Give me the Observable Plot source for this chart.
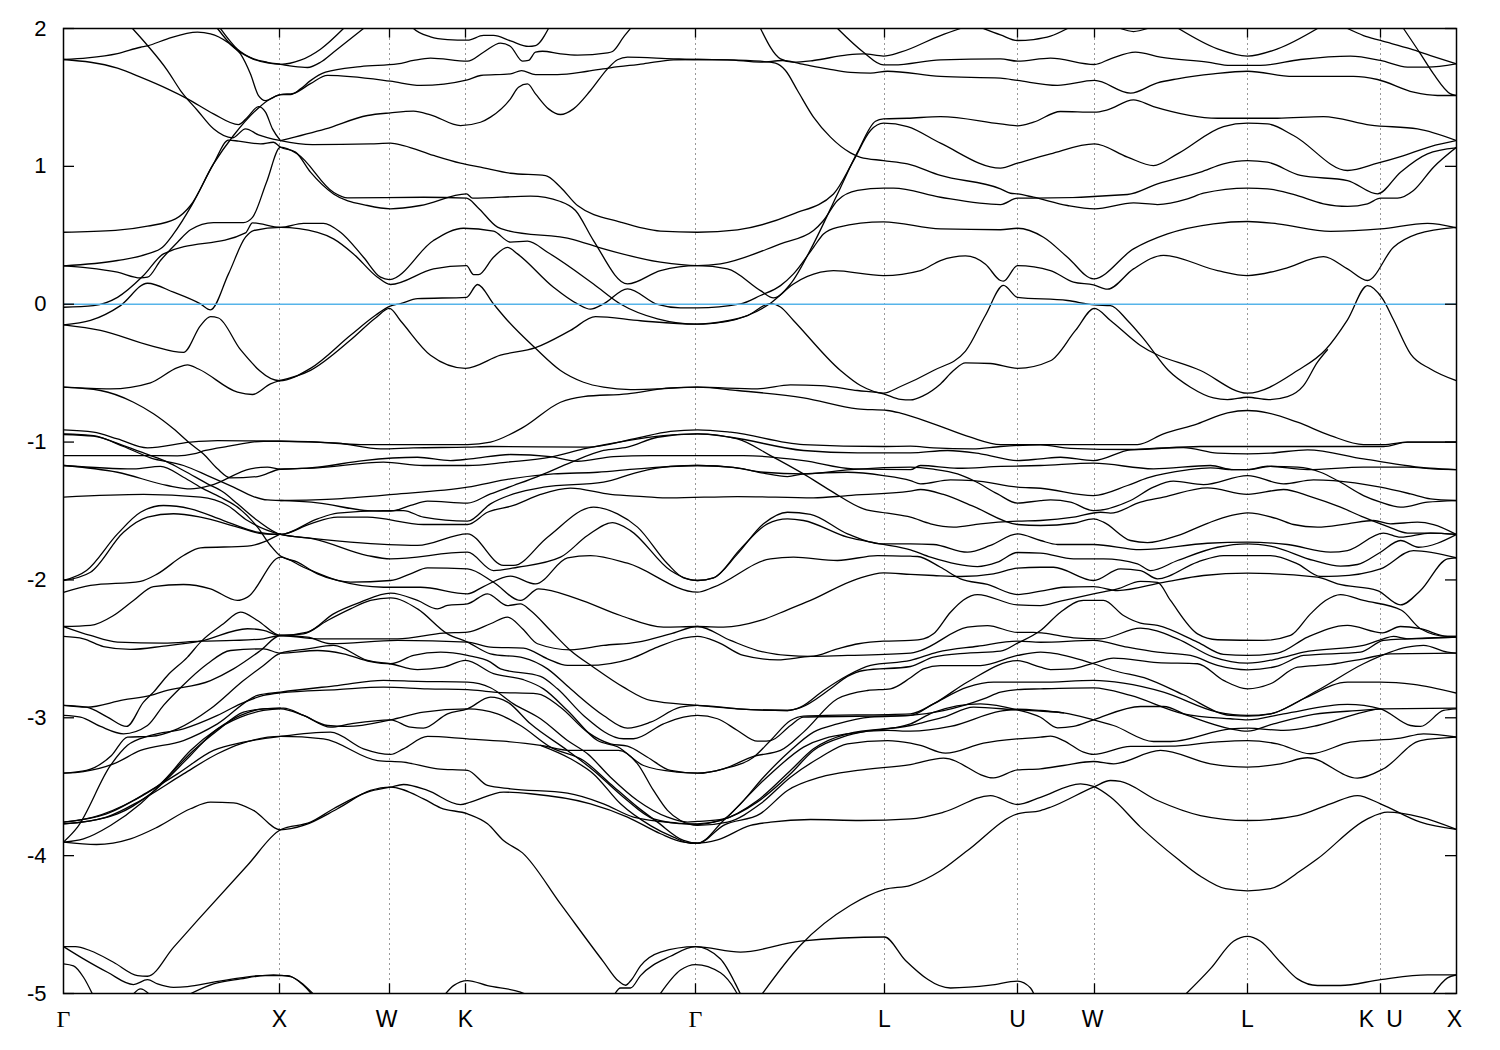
<!DOCTYPE html>
<html>
<head>
<meta charset="utf-8">
<script src="https://cdn.jsdelivr.net/npm/d3@7"></script>
<script src="https://cdn.jsdelivr.net/npm/@observablehq/plot@0.6"></script>
<style>html,body{margin:0;padding:0;background:#fff}svg{display:block}</style>
</head>
<body>
<div id="chart"></div>
<script>
// k-path position of each high-symmetry point
const nodes = [0,216,326,402,632,821,954,1031,1184,1317,1393];
const xLabels = ["Γ","X","W","K","Γ","L","U","W","L","K","U","X"];
const xLabelK = [0,216,323,402,632,821,954,1029,1184,1303,1331,1391];
const energyTicks = [2,1,0,-1,-2,-3,-4,-5];

// bands: k, energy (eV) pairs
const topA = [345,2.05,350,2,367,1.94,384,1.92,404,1.915,420,1.95,430,1.95,447,1.91,465,1.87,472,1.876,485,2];
const topB = [154,2,170,1.864,187,1.787,204,1.75,217,1.74,237,1.77,257,1.85,280,2];
const topC = [157,2,174,1.85,190,1.78,204,1.755,217,1.74,230,1.725,244,1.717,257,1.755,270,1.828,300,2];
const topD = [0,1.775,24,1.787,54,1.818,77,1.864,84,1.874,104,1.925,134,1.973,147,1.961,164,1.9,177,1.816,187,1.67,195,1.513,202,1.477,217,1.52,227,1.52,237,1.562,247,1.622,262,1.683,297,1.724,334,1.743,350,1.768,367,1.785,404,1.763,420,1.828,437,1.894,447,1.87,459,1.763,465,1.768,472,1.828,479,1.835,497,1.816,514,1.807,544,1.823,549,1.833,560,1.937,567,2];
const bandF = [0,.522,52,.535,84,.566,112,.619,127,.716,150,1.018,170,1.224,195,1.424,207,1.49,217,1.52,230,1.53,247,1.6,264,1.66,327,1.618,357,1.587,404,1.628,417,1.659,447,1.671,458,1.695,472,1.666,494,1.666,524,1.69,547,1.715,580,1.744,610,1.773,634,1.775,664,1.773,697,1.763,712,1.748,722,1.695,734,1.55,750,1.357,767,1.212,787,1.098,797,1.066,820,1.042,844,1.018,877,.934,937,.837,947,.805,954,.8,970,.776,1004,.716,1031,.692,1070,.735,1094,.723,1124,.764,1140,.805,1184,.842,1204,.837,1230,.796,1260,.728,1284,.709,1304,.728,1317,.769,1334,.769,1350,.825,1370,.994,1393,1.139];
const bandK = [217,1.187,262,1.272,304,1.369,327,1.388,350,1.4,367,1.374,397,1.296,417,1.32,427,1.357,447,1.49,455,1.574,464,1.598,472,1.526,485,1.417,497,1.376,510,1.417,527,1.55,544,1.707,554,1.773,564,1.792,610,1.78,634,1.775,664,1.773,697,1.756,719,1.768,737,1.744,764,1.707,787,1.681,807,1.676,824,1.69,877,1.652,937,1.64,954,1.623,994,1.587,1031,1.623,1067,1.531,1094,1.606,1114,1.635,1150,1.671,1184,1.69,1230,1.652,1290,1.652,1314,1.63,1350,1.538,1374,1.514,1393,1.514];
const topE = [697,2,717,1.78,730,1.756,750,1.768,784,1.809,800,1.816,820,1.8,837,1.828,877,1.949,897,2];
const topF = [774,2,800,1.828,820,1.736,830,1.736,877,1.773,937,1.78,954,1.763,987,1.785,1031,1.739,1047,1.78,1072,1.828,1097,1.792,1144,1.756,1167,1.732,1197,1.732,1237,1.775,1287,1.8,1317,1.768,1344,1.72,1364,1.72,1393,1.744];
const topG = [920,2,937,1.954,954,1.913,970,1.92,987,1.944,1004,2];
const topH = [1057,2,1070,1.978,1084,2];
const topI = [1115,2,1154,1.852,1184,1.8,1214,1.852,1254,2];
const topJ = [1284,2,1300,1.949,1317,1.913,1347,1.852,1367,1.804,1393,1.744];
const topL = [1340,2,1357,1.816,1370,1.671,1387,1.526,1393,1.514];
const bandB = [69,2,84,1.877,104,1.695,117,1.55,134,1.405,150,1.272,169,1.207,182,1.272,195,1.229,217,1.187,249,1.158,307,1.163,327,1.168,340,1.151,370,1.079,397,1.023,417,.994,447,.95,482,.933,497,.849,514,.716,557,.595,597,.53,634,.522,674,.54,730,.655,770,.8,790,1.042,807,1.26,820,1.313,844,1.289,877,1.168,937,.987,954,1.023,987,1.091,1031,1.163,1064,1.067,1090,1.006,1114,1.091,1160,1.289,1184,1.313,1204,1.308,1230,1.224,1284,.97,1314,1.023,1337,1.071,1367,1.144,1393,1.187];
const bandC = [0,1.775,54,1.712,77,1.647,104,1.562,124,1.49,150,1.381,175,1.303,184,1.357,195,1.434,202,1.393,209,1.272,217,1.187];
const bandG = [0,.278,54,.317,84,.365,99,.413,110,.51,129,.728,150,1.018,165,1.19,175,1.183,197,1.163,210,1.175,217,1.139,232,1.103,247,.958,270,.8,304,.716,327,.692,357,.716,403,.8,409,.769,467,.784,497,.745,512,.68,530,.462,564,.147,597,.244,634,.28,664,.256,697,.099,710,.046,727,.147,750,.438,774,.8,794,1.103,812,1.327,820,1.344,844,1.349,877,1.361,937,1.308,954,1.294,970,1.32,997,1.398,1031,1.393,1044,1.41,1070,1.482,1090,1.434,1154,1.349,1214,1.349,1260,1.361,1307,1.299,1354,1.272,1393,1.187];
const bandH = [0,.278,24,.263,54,.232,77,.191,84,.196,97,.317,114,.45,127,.54,150,.592,180,.592,189,.63,203,.885,217,1.139,234,1.09,270,.812,284,.771,360,.776,403,.769,414,.704,434,.559,444,.534,510,.469,535,.413,597,.305,634,.28,657,.293,717,.438,750,.534,760,.607,774,.752,794,.825,820,.842,830,.842,877,.776,937,.723,954,.769,970,.769,1064,.796,1094,.873,1137,.958,1160,1.018,1184,1.042,1204,1.03,1237,.934,1284,.897,1314,.8,1337,.958,1364,1.091,1393,1.134];
const bandJ = [0,-.15,27,-.118,57,-.01,84,.152,110,.087,137,.002,147,-.041,165,.22,182,.486,190,.534,217,.558,254,.522,270,.474,290,.365,314,.196,327,.143,370,.256,403,.28,410,.215,415,.215,430,.341,444,.413,454,.365,490,.123,514,.002,527,-.036,540,.002,564,.111,594,-.002,617,-.027,634,-.027,677,.002,697,.063,717,.135,730,.22,750,.413,760,.51,774,.558,820,.597,877,.546,937,.54,954,.551,980,.486,1004,.341,1030,.184,1070,.401,1104,.51,1150,.583,1184,.6,1214,.583,1267,.529,1317,.546,1364,.587,1393,.554];
const bandI = [0,-.022,30,-.01,54,.05,80,.208,100,.365,182,.517,189,.59,217,.558,240,.587,260,.587,277,.522,300,.341,317,.196,326,.179,370,.462,400,.551,430,.53,447,.45,464,.457,484,.377,530,.147,557,.002,594,-.106,634,-.145,664,-.125,684,-.082,707,.007,730,.147,757,.232,770,.244,820,.208,857,.244,877,.317,902,.35,922,.29,937,.172,940,.167,954,.28,987,.244,1010,.16,1030,.14,1044,.109,1070,.256,1100,.355,1154,.244,1184,.208,1220,.256,1260,.345,1284,.256,1304,.172,1330,.413,1354,.51,1393,.558];
const fermiA = [0,-.15,37,-.19,87,-.3,120,-.35,137,-.155,147,-.09,155,-.1,177,-.33,216,-.555,247,-.465,287,-.225,312,-.08,326,-.015,337,.005,354,.04,403,.05,414,.143,430,.002,444,-.118,472,-.32,497,-.481,520,-.566,540,-.602,567,-.619,594,-.614,634,-.602,694,-.614,727,-.585,757,-.59,794,-.626,820,-.65,837,-.69,847,-.694,860,-.663,877,-.578,890,-.481,902,-.425,927,-.43,954,-.465,987,-.41,1012,-.19,1031,-.03,1047,-.118,1077,-.3,1137,-.481,1184,-.645,1234,-.481,1262,-.33,1284,-.113,1304,.135,1319,.04,1330,-.113,1347,-.36,1367,-.47,1393,-.555];
const fermiB = [216,-.555,247,-.48,287,-.26,312,-.1,326,-.03,337,-.12,367,-.37,402,-.465,437,-.37,472,-.315,507,-.19,532,-.09,577,-.12,632,-.145,664,-.12,684,-.082,707,.005,717,-.02,730,-.118,777,-.481,797,-.59,820,-.645,837,-.597,870,-.481,902,-.34,922,-.08,940,.136,954,.05,1004,.027,1031,-.005,1047,-.01,1064,-.118,1080,-.25,1105,-.481,1127,-.602,1150,-.68,1164,-.692,1184,-.675,1205,-.692,1224,-.67,1240,-.59,1254,-.42,1264,-.33];
const fermiC = [0,-.602,47,-.614,87,-.57,114,-.46,124,-.44,135,-.47,174,-.638,189,-.655,207,-.578,217,-.553];
const midA = [0,-.602,37,-.626,70,-.711,90,-.795,110,-.904,127,-1.013,140,-1.086,154,-1.194,167,-1.26,194,-1.25,217,-1.197,254,-1.187,320,-1.146,360,-1.17,404,-1.17,444,-1.145,487,-1.11,520,-1.05,564,-.989,600,-.953,634,-.94,667,-.965,740,-1.061,794,-1.078,847,-1.078,884,-1.061,917,-1.085,954,-1.134,977,-1.122,997,-1.11,1030,-1.134,1067,-1.056,1120,-1.04,1154,-1.08,1184,-1.085,1207,-1.08,1244,-1.056,1300,-1.122,1367,-1.19,1393,-1.2];
const midR1 = [0,-.911,30,-.928,54,-.977,84,-1.042,127,-1,154,-.989,217,-.994,254,-1,297,-1.018,404,-1.018,427,-1,460,-.892,497,-.711,520,-.67,564,-.65,607,-.607,634,-.602,674,-.626,740,-.679,794,-.759,824,-.771,837,-.79,870,-.868,907,-.965,937,-1.018,977,-1.018,1074,-1.018,1100,-.94,1134,-.868,1164,-.788,1184,-.771,1204,-.788,1234,-.856,1267,-.953,1300,-1.018,1320,-1.018,1344,-1,1393,-1];
const midR2 = [0,-1.098,80,-1.098,114,-1.1,130,-1.086,142,-1.061,164,-1.032,200,-.994,217,-.994,274,-1.008,317,-1.05,350,-1.042,404,-1.037,427,-1.032,524,-1.037,570,-.977,607,-.923,634,-.911,667,-.928,740,-1.018,820,-1.032,847,-1.03,870,-1.042,909,-1.049,937,-1.032,977,-1.02,1007,-1.045,1067,-1.054,1137,-1.032,1230,-1.032,1320,-1.032,1344,-1,1393,-1];
const midDa = [0,-.94,30,-.953,60,-1.032,87,-1.114,120,-1.17,144,-1.243,170,-1.327,190,-1.395,204,-1.42,217,-1.424,254,-1.441,304,-1.497,327,-1.501,347,-1.46,364,-1.429,404,-1.443,427,-1.376,450,-1.315,474,-1.25,504,-1.158,540,-1.061,564,-1.037,594,-.965,634,-.94,674,-.977,707,-1.098,740,-1.231,767,-1.352,800,-1.484,824,-1.516,847,-1.545,867,-1.593,890,-1.617,917,-1.593,954,-1.574,977,-1.569,1010,-1.545,1037,-1.509,1047,-1.516,1077,-1.436,1100,-1.4,1144,-1.332,1184,-1.38,1220,-1.344,1247,-1.395,1277,-1.472,1300,-1.545,1325,-1.615,1344,-1.66,1367,-1.66,1393,-1.67];
const midDb = [0,-.945,30,-.957,60,-1.025,84,-1.09,104,-1.146,120,-1.206,144,-1.303,160,-1.364,174,-1.448,194,-1.569,217,-1.67,250,-1.702,304,-1.823,327,-1.847,404,-1.799,430,-1.932,454,-1.908,497,-1.835,524,-1.678,549,-1.584,567,-1.642,607,-1.932,624,-1.992,634,-2.004,650,-1.985,677,-1.775,704,-1.593,724,-1.557,740,-1.569,784,-1.69,817,-1.738,847,-1.782,867,-1.835,914,-1.903,934,-1.871,954,-1.801,977,-1.806,1010,-1.847,1040,-1.847,1074,-1.883,1087,-1.932,1114,-1.859,1154,-1.763,1184,-1.738,1207,-1.755,1250,-1.859,1277,-1.9,1294,-1.888,1317,-1.799,1337,-1.714,1355,-1.763,1393,-1.67];
const midE1 = [0,-1.17,70,-1.195,97,-1.176,120,-1.255,140,-1.34,160,-1.412,174,-1.472,194,-1.617,207,-1.75,217,-1.827,234,-1.871,254,-1.956,274,-2.004,287,-2.016,327,-2.004,347,-1.956,364,-1.913,404,-1.92,430,-2.017,457,-2.149,475,-2.065,514,-2.137,557,-2.258,600,-2.342,634,-2.338,660,-2.342,697,-2.294,724,-2.217,747,-2.149,794,-1.992,820,-1.949,847,-1.96,870,-1.968,897,-1.975,930,-1.956,954,-1.915,977,-1.908,990,-1.908,1030,-2.004,1057,-1.92,1077,-1.932,1094,-1.992,1134,-1.87,1160,-1.823,1207,-1.823,1234,-1.883,1257,-1.975,1274,-1.973,1317,-1.92,1350,-1.787,1393,-1.84];
const midE2 = [0,-1.17,54,-1.219,104,-1.315,127,-1.34,147,-1.315,187,-1.194,204,-1.182,217,-1.197,254,-1.182,300,-1.134,354,-1.11,387,-1.134,407,-1.122,447,-1.09,487,-1.105,514,-1.139,550,-1.105,587,-1.098,634,-1.098,680,-1.098,740,-1.134,790,-1.194,847,-1.2,857,-1.17,894,-1.19,937,-1.177,977,-1.17,1030,-1.153,1090,-1.194,1147,-1.17,1170,-1.2,1184,-1.2,1204,-1.175,1244,-1.2,1300,-1.182,1344,-1.182,1370,-1.194,1393,-1.2];
const midL4 = [217,-1.424,274,-1.412,330,-1.38,404,-1.327,447,-1.267,490,-1.231,534,-1.219,574,-1.194,634,-1.17,674,-1.187,700,-1.226,724,-1.25,740,-1.231,784,-1.219,820,-1.243,847,-1.279,857,-1.303,887,-1.274,910,-1.279,954,-1.327,977,-1.335,1030,-1.388,1064,-1.315,1084,-1.26,1124,-1.202,1147,-1.187,1170,-1.2,1184,-1.2,1207,-1.177,1234,-1.182,1257,-1.219,1274,-1.279,1300,-1.388,1317,-1.436,1337,-1.472,1364,-1.436,1393,-1.424];
const midL5 = [0,-2.004,23,-1.932,54,-1.666,77,-1.509,100,-1.46,127,-1.484,160,-1.569,194,-1.654,217,-1.67,254,-1.557,274,-1.516,320,-1.497,340,-1.497,360,-1.545,404,-1.574,427,-1.448,450,-1.376,480,-1.327,540,-1.29,574,-1.219,607,-1.177,634,-1.17,667,-1.182,700,-1.219,740,-1.231,787,-1.2,847,-1.182,870,-1.197,894,-1.231,910,-1.279,934,-1.376,954,-1.443,977,-1.424,987,-1.419,1007,-1.436,1030,-1.497,1067,-1.424,1090,-1.327,1110,-1.284,1140,-1.308,1184,-1.243,1220,-1.303,1250,-1.274,1270,-1.279,1317,-1.327,1347,-1.376,1367,-1.412,1393,-1.424];
const midL6 = [0,-2.004,27,-1.944,60,-1.654,84,-1.545,110,-1.52,137,-1.545,174,-1.617,200,-1.666,217,-1.67,247,-1.593,274,-1.545,304,-1.545,360,-1.598,404,-1.598,424,-1.509,450,-1.46,477,-1.38,507,-1.334,547,-1.38,580,-1.395,607,-1.405,674,-1.395,750,-1.405,784,-1.388,847,-1.356,857,-1.344,880,-1.38,910,-1.467,954,-1.598,977,-1.605,1010,-1.589,1030,-1.557,1040,-1.581,1067,-1.714,1084,-1.729,1114,-1.678,1144,-1.589,1167,-1.533,1184,-1.513,1214,-1.557,1230,-1.598,1254,-1.617,1284,-1.593,1310,-1.569,1327,-1.593,1354,-1.581,1370,-1.598,1393,-1.67];
const midL7 = [0,-1.4,80,-1.38,137,-1.4,164,-1.46,184,-1.569,217,-1.67,237,-1.69,287,-1.726,354,-1.75,404,-1.666,440,-1.895,450,-1.895,484,-1.69,530,-1.472,554,-1.521,574,-1.617,604,-1.883,620,-1.985,634,-2.004,650,-1.985,674,-1.811,700,-1.593,724,-1.509,747,-1.525,784,-1.666,817,-1.738,847,-1.738,870,-1.743,904,-1.799,927,-1.75,954,-1.666,977,-1.714,994,-1.743,1030,-1.743,1077,-1.78,1144,-1.734,1184,-1.726,1224,-1.743,1267,-1.799,1284,-1.787,1320,-1.66,1337,-1.69,1367,-1.66,1393,-1.67];
const midM = [0,-2.09,27,-2.04,77,-2.01,94,-1.956,120,-1.823,137,-1.767,184,-1.755,217,-1.666];
const midN = [0,-2.338,27,-2.33,50,-2.258,70,-2.149,90,-2.048,120,-2.033,147,-2.065,174,-2.149,184,-2.125,217,-1.835,240,-1.908,274,-2.004,320,-2.053,357,-2.053,404,-2.101,420,-2.048,447,-1.973,472,-2.029,504,-1.84,527,-1.823,564,-1.879,634,-2.089,650,-2.053,707,-1.847,730,-1.835,774,-1.859,814,-1.823,847,-1.828,854,-1.83,877,-1.908,897,-1.992,924,-2.033,954,-2.106,977,-2.082,1000,-2.053,1030,-2.048,1054,-2.077,1100,-2.017,1140,-1.968,1184,-1.951,1254,-1.98,1274,-2.029,1314,-2.077,1337,-2.181,1357,-2.077,1384,-1.847,1393,-1.84];
const lowH1 = [0,-2.338,27,-2.403,54,-2.451,100,-2.459,137,-2.444,170,-2.439,200,-2.427,217,-2.403,254,-2.427,334,-2.427,380,-2.386,404,-2.379,427,-2.318,444,-2.27,459,-2.354,474,-2.463,507,-2.507,540,-2.475,574,-2.451,607,-2.391,634,-2.338,667,-2.439,694,-2.512,724,-2.548,747,-2.555,774,-2.5,795,-2.463,820,-2.444,847,-2.439,860,-2.428,870,-2.391,887,-2.234,900,-2.145,914,-2.106,954,-2.181,977,-2.186,997,-2.154,1030,-2.101,1054,-2.065,1077,-2.01,1094,-2.017,1107,-2.149,1134,-2.391,1154,-2.434,1200,-2.439,1227,-2.403,1247,-2.246,1262,-2.149,1277,-2.106,1300,-2.149,1338,-2.22,1357,-2.354,1384,-2.41,1393,-2.41];
const lowH2 = [0,-2.41,20,-2.427,40,-2.483,67,-2.504,100,-2.48,137,-2.444,184,-2.354,200,-2.366,217,-2.403,244,-2.379,270,-2.246,297,-2.161,327,-2.096,354,-2.149,374,-2.21,384,-2.185,404,-2.173,424,-2.101,444,-2.186,457,-2.174,467,-2.222,487,-2.367,507,-2.512,530,-2.633,560,-2.778,587,-2.874,634,-2.91,674,-2.935,724,-2.947,737,-2.923,760,-2.802,784,-2.693,807,-2.62,847,-2.584,874,-2.524,914,-2.481,954,-2.444,977,-2.452,1030,-2.439,1064,-2.488,1094,-2.524,1127,-2.548,1154,-2.62,1184,-2.652,1214,-2.625,1240,-2.548,1297,-2.524,1320,-2.439,1344,-2.427,1393,-2.415];
const lowP = [0,-2.91,23,-2.923,44,-2.995,63,-3.063,80,-2.886,90,-2.814,104,-2.693,124,-2.56,137,-2.451,160,-2.318,177,-2.234,194,-2.294,217,-2.403,240,-2.391,264,-2.294,287,-2.21,307,-2.149,327,-2.13,354,-2.21,384,-2.391,404,-2.451,427,-2.536,460,-2.565,484,-2.645,507,-2.79,540,-2.983,564,-3.075,587,-3.032,617,-2.923,634,-2.91,674,-2.935,724,-2.947,737,-2.927,767,-2.79,784,-2.7,800,-2.657,847,-2.628,870,-2.56,904,-2.531,937,-2.517,954,-2.459,977,-2.367,997,-2.234,1020,-2.149,1040,-2.149,1060,-2.258,1077,-2.313,1094,-2.33,1134,-2.451,1160,-2.54,1184,-2.548,1214,-2.531,1244,-2.415,1284,-2.33,1319,-2.384,1337,-2.338,1357,-2.354,1384,-2.41,1393,-2.41];
const lowR = [0,-2.91,23,-2.923,60,-2.87,87,-2.838,100,-2.809,147,-2.73,170,-2.645,197,-2.512,217,-2.403,244,-2.415,267,-2.463,334,-2.439,404,-2.451,427,-2.487,460,-2.495,484,-2.572,504,-2.62,524,-2.62,567,-2.572,594,-2.488,620,-2.422,634,-2.41,654,-2.451,680,-2.548,714,-2.58,747,-2.555,784,-2.548,847,-2.531,857,-2.512,904,-2.343,924,-2.331,954,-2.381,970,-2.381,980,-2.386,1010,-2.42,1037,-2.427,1077,-2.35,1114,-2.427,1150,-2.56,1184,-2.604,1214,-2.572,1240,-2.524,1300,-2.475,1320,-2.427,1330,-2.41,1344,-2.427,1393,-2.415];
const lowQ = [0,-2.983,17,-2.995,37,-3.063,60,-3.116,84,-3.056,100,-2.91,117,-2.782,144,-2.608,167,-2.512,200,-2.5,217,-2.531,254,-2.512,280,-2.536,307,-2.592,327,-2.608,350,-2.548,377,-2.524,404,-2.548,427,-2.596,437,-2.645,477,-2.7,494,-2.79,520,-2.983,560,-3.152,570,-3.152,600,-3.044,620,-2.995,634,-2.983,654,-3.007,674,-3.092,694,-3.17,707,-3.165,727,-3.056,740,-2.995,847,-2.983,870,-2.899,904,-2.778,930,-2.742,977,-2.742,1030,-2.729,1060,-2.749,1100,-2.814,1154,-2.959,1184,-2.983,1207,-2.971,1240,-2.862,1284,-2.741,1317,-2.741,1350,-2.758,1393,-2.821];
const lowS = [0,-3.402,23,-3.382,48,-3.273,64,-3.14,87,-3.135,114,-3.08,147,-2.935,180,-2.73,200,-2.62,217,-2.531,244,-2.5,270,-2.475,304,-2.584,327,-2.608,354,-2.65,380,-2.633,402,-2.584,430,-2.68,460,-2.724,480,-2.79,504,-2.947,534,-3.165,554,-3.21,580,-3.346,614,-3.394,634,-3.402,660,-3.37,690,-3.286,707,-3.165,727,-3.02,740,-2.988,847,-2.971,870,-2.899,904,-2.74,954,-2.585,977,-2.633,987,-2.65,1007,-2.645,1030,-2.603,1050,-2.567,1094,-2.6,1134,-2.608,1160,-2.729,1184,-2.79,1207,-2.753,1234,-2.633,1267,-2.613,1300,-2.572,1327,-2.536,1393,-2.531];
const lowT = [0,-3.402,20,-3.39,50,-3.334,77,-3.237,120,-3.165,154,-3.044,194,-2.838,217,-2.814,274,-2.766,320,-2.729,354,-2.736,404,-2.741,427,-2.782,450,-2.899,477,-3.007,504,-3.165,524,-3.261,547,-3.431,574,-3.6,604,-3.721,624,-3.757,634,-3.752,660,-3.733,674,-3.648,700,-3.431,727,-3.237,750,-3.104,774,-3.044,807,-2.995,847,-2.983,880,-2.948,920,-2.863,937,-2.814,954,-2.795,977,-2.79,1030,-2.783,1067,-2.838,1120,-2.971,1167,-3.007,1184,-3.015,1220,-2.971,1284,-2.903,1317,-2.935,1347,-3.056,1357,-3.063,1380,-2.947,1393,-2.935];
const lowU = [0,-3.902,14,-3.793,47,-3.346,64,-3.2,87,-3.128,120,-3.08,154,-2.983,177,-2.899,200,-2.838,217,-2.819,274,-2.795,320,-2.778,364,-2.79,404,-2.795,430,-2.814,474,-2.826,497,-2.923,524,-3.104,547,-3.189,564,-3.206,584,-3.286,607,-3.382,634,-3.402,660,-3.37,690,-3.28,717,-3.237,740,-3.104,774,-2.862,804,-2.802,827,-2.79,847,-2.71,860,-2.645,877,-2.621,917,-2.621,954,-2.548,977,-2.524,987,-2.529,1030,-2.608,1050,-2.657,1084,-2.717,1120,-2.833,1167,-2.983,1184,-2.988,1207,-2.971,1254,-2.802,1300,-2.608,1344,-2.488,1360,-2.475,1384,-2.524,1393,-2.531];
const lowV = [0,-3.757,30,-3.72,70,-3.6,97,-3.479,127,-3.237,154,-3.08,177,-2.983,200,-2.935,220,-2.93,240,-2.983,264,-3.056,284,-3.063,327,-3.015,360,-2.959,404,-2.935,434,-2.971,457,-3.056,487,-3.213,520,-3.31,547,-3.48,574,-3.648,594,-3.757,620,-3.89,634,-3.91,660,-3.745,707,-3.407,740,-3.213,784,-3.116,824,-3.092,847,-3.097,887,-3.063,937,-2.952,954,-2.938,977,-2.947,1000,-2.964];
const lowW = [0,-3.77,54,-3.697,87,-3.552,127,-3.273,150,-3.104,177,-2.995,200,-2.947,217,-2.935,240,-2.983,267,-3.068,287,-3.044,327,-3.015,347,-3.068,360,-3.075,384,-2.971,404,-2.935,427,-2.85,444,-2.886,467,-3.044,504,-3.237,530,-3.382,560,-3.576,590,-3.733,624,-3.769,634,-3.769,657,-3.745,694,-3.6,727,-3.382,750,-3.225,784,-3.116,847,-3.056,857,-3.039,880,-2.996,910,-2.923,954,-2.943,977,-2.952,1000,-2.964,1030,-3.015,1050,-3.056,1090,-3.172,1107,-3.172,1167,-3.08,1184,-3.075,1220,-3.092,1254,-3.056,1300,-2.959,1317,-2.935,1393,-2.93];
const lowX = [0,-3.757,43,-3.697,87,-3.527,114,-3.407,150,-3.237,180,-3.177,217,-3.135,267,-3.104,300,-3.225,327,-3.266,340,-3.225,364,-3.135,404,-3.153,440,-3.17,477,-3.2,507,-3.237,555,-3.237,574,-3.334,590,-3.527,604,-3.672,617,-3.745,634,-3.781,664,-3.757,697,-3.624,727,-3.431,757,-3.286,784,-3.189,824,-3.165,847,-3.184,857,-3.201,882,-3.257,920,-3.184,954,-3.153,977,-3.141,987,-3.133,1000,-3.165,1020,-3.249,1030,-3.266,1067,-3.208,1107,-3.206,1150,-3.177,1184,-3.165,1214,-3.189,1247,-3.261,1287,-3.177,1337,-3.148,1360,-3.116,1393,-3.14];
const lowY = [0,-3.77,43,-3.72,77,-3.6,120,-3.407,154,-3.261,177,-3.189,217,-3.135,260,-3.153,314,-3.31,340,-3.322,374,-3.37,404,-3.382,424,-3.491,447,-3.515,504,-3.547,540,-3.624,570,-3.72,614,-3.764,634,-3.774,657,-3.745,694,-3.61,727,-3.406,750,-3.237,784,-3.128,847,-3.044,870,-2.96,917,-2.899,954,-2.943,977,-2.996,994,-3.073,1010,-3.063,1030,-3.015,1077,-2.918,1100,-2.918,1124,-2.983,1167,-3.08,1184,-3.097,1210,-3.044,1250,-2.975,1300,-2.945,1317,-2.935];
const lowZ = [0,-3.902,20,-3.878,47,-3.781,77,-3.624,104,-3.43,130,-3.237,154,-3.092,180,-2.959,200,-2.935,217,-2.93];
const lowG13 = [477,-3.2,507,-3.297,530,-3.407,557,-3.624,587,-3.782,610,-3.866,627,-3.91,634,-3.91,660,-3.78,697,-3.695,724,-3.527,757,-3.43,794,-3.382,847,-3.339,880,-3.293,930,-3.436,954,-3.378,977,-3.37,1000,-3.346,1030,-3.317,1050,-3.334,1097,-3.237,1147,-3.334,1184,-3.358,1217,-3.334,1244,-3.29,1294,-3.438,1320,-3.37,1357,-3.165,1393,-3.14];
const deepA = [0,-3.902,33,-3.919,67,-3.878,94,-3.793,127,-3.66,147,-3.612,170,-3.617,190,-3.672,217,-3.812,240,-3.781,274,-3.66,307,-3.527,327,-3.503,360,-3.588,377,-3.653,404,-3.697,424,-3.769,440,-3.89,459,-3.98,497,-4.35,540,-4.77,555,-4.91,562,-4.94,568,-4.9,577,-4.8,597,-4.7,632,-4.66,677,-4.7,737,-4.62,821,-4.59,842,-4.76,887,-4.96,927,-4.94,954,-4.91,967,-4.96,972,-5.03];
const deepB = [0,-4.66,12,-4.66,27,-4.69,50,-4.773,74,-4.87,84,-4.875,110,-4.665,134,-4.47,184,-4.07,217,-3.812,247,-3.757,270,-3.66,304,-3.539,327,-3.503,340,-3.484,364,-3.527,397,-3.63,407,-3.612,440,-3.539,467,-3.551,527,-3.624,564,-3.72,597,-3.841,620,-3.902,634,-3.91,654,-3.886,687,-3.781,707,-3.757,747,-3.738,797,-3.745,847,-3.733,880,-3.685,927,-3.564,954,-3.629,977,-3.577,1017,-3.479,1030,-3.498,1047,-3.575,1077,-3.793,1114,-4.023,1137,-4.15,1162,-4.24,1184,-4.255,1207,-4.24,1237,-4.11,1254,-4.023,1304,-3.733,1324,-3.685,1357,-3.721,1393,-3.81];
const deepC = [697,-5.02,737,-4.65,787,-4.36,821,-4.245,847,-4.215,877,-4.11,904,-3.963,954,-3.697,977,-3.673,987,-3.649,1030,-3.503,1047,-3.455,1057,-3.462,1094,-3.6,1137,-3.709,1184,-3.745,1234,-3.709,1267,-3.624,1294,-3.564,1317,-3.624,1357,-3.757,1393,-3.81];
const botA = [0,-4.66,20,-4.749,44,-4.846,70,-4.935,84,-4.9,94,-4.93,110,-4.955,124,-4.95,150,-4.918,177,-4.887,197,-4.87,224,-4.87,237,-4.918,252,-5.02];
const botB = [122,-5.02,150,-4.93,177,-4.894,210,-4.865,227,-4.877,240,-4.94,250,-5.02];
const botC = [0,-4.785,10,-4.8,20,-4.882,30,-5.02];
const botD = [68,-5.02,77,-4.967,88,-5.02];
const botE = [380,-5.02,390,-4.943,404,-4.906,424,-4.943,457,-4.99,470,-5.03];
const botF = [595,-5.02,617,-4.83,632,-4.79,657,-4.85,672,-4.98,675,-5.02];
const botG = [550,-5.02,557,-4.96,567,-4.96,577,-4.87,607,-4.73,632,-4.66,657,-4.75,672,-4.93,678,-5.02];
const botH = [1120,-5.02,1147,-4.82,1170,-4.621,1184,-4.585,1197,-4.621,1217,-4.773,1234,-4.894,1254,-4.942,1277,-4.942,1317,-4.9,1364,-4.865,1393,-4.865];
const botI = [1368,-5.02,1384,-4.887,1393,-4.865];

const bands = [topA,topB,topC,topD,bandF,bandK,topE,topF,topG,topH,topI,topJ,topL,bandB,bandC,bandG,bandH,bandJ,bandI,fermiA,fermiB,fermiC,midA,midR1,midR2,midDa,midDb,midE1,midE2,midL4,midL5,midL6,midL7,midM,midN,lowH1,lowH2,lowP,lowR,lowQ,lowS,lowT,lowU,lowV,lowW,lowX,lowY,lowZ,lowG13,deepA,deepB,deepC,botA,botB,botC,botD,botE,botF,botG,botH,botI];

const rows = bands.flatMap((b,i)=>{
  const out=[];
  for(let j=0;j<b.length;j+=2) out.push({k:b[j],e:b[j+1],band:i});
  return out;
});
const labelRows = xLabels.map((t,i)=>({t,k:xLabelK[i]}));
const font = "'Liberation Sans', Arial, sans-serif";
const plot = Plot.plot({
  width:1500, height:1050,
  marginLeft:63, marginRight:44, marginTop:28, marginBottom:57,
  style:{background:"#fff",fontFamily:font},
  x:{domain:[0,1393],axis:null},
  y:{domain:[-5,2],axis:null},
  marks:[
    Plot.ruleX(nodes.slice(1,-1),{stroke:"#999",strokeWidth:1,strokeDasharray:"2,3"}),
    Plot.line(rows,{x:"k",y:"e",z:"band",stroke:"#000",strokeWidth:1.3,curve:"monotone-x",clip:true}),
    Plot.ruleY([0],{stroke:"#56B4E9",strokeWidth:1.6}),
    Plot.ruleX(nodes.slice(1,-1),{y1:-5,y2:-4.93,stroke:"#000",strokeWidth:1.3}),
    Plot.ruleX(nodes.slice(1,-1),{y1:2,y2:1.93,stroke:"#000",strokeWidth:1.3}),
    Plot.ruleY(energyTicks,{x1:0,x2:11,stroke:"#000",strokeWidth:1.3}),
    Plot.ruleY(energyTicks,{x1:1382,x2:1393,stroke:"#000",strokeWidth:1.3}),
    Plot.frame({stroke:"#000",strokeWidth:1.5}),
    Plot.text(energyTicks,{x:0,y:d=>d,text:d=>String(d),textAnchor:"end",dx:-17,fontSize:22,fill:"#000"}),
    Plot.text(labelRows.filter(d=>d.t!=="Γ"),{x:"k",y:-5,text:"t",dy:26,fontSize:23,fill:"#000"}),
    Plot.text(labelRows.filter(d=>d.t==="Γ"),{x:"k",y:-5,text:"t",dy:26,fontSize:24,fill:"#000",fontFamily:"'Liberation Serif', serif"})
  ]
});
document.getElementById("chart").append(plot);
</script>
</body>
</html>
